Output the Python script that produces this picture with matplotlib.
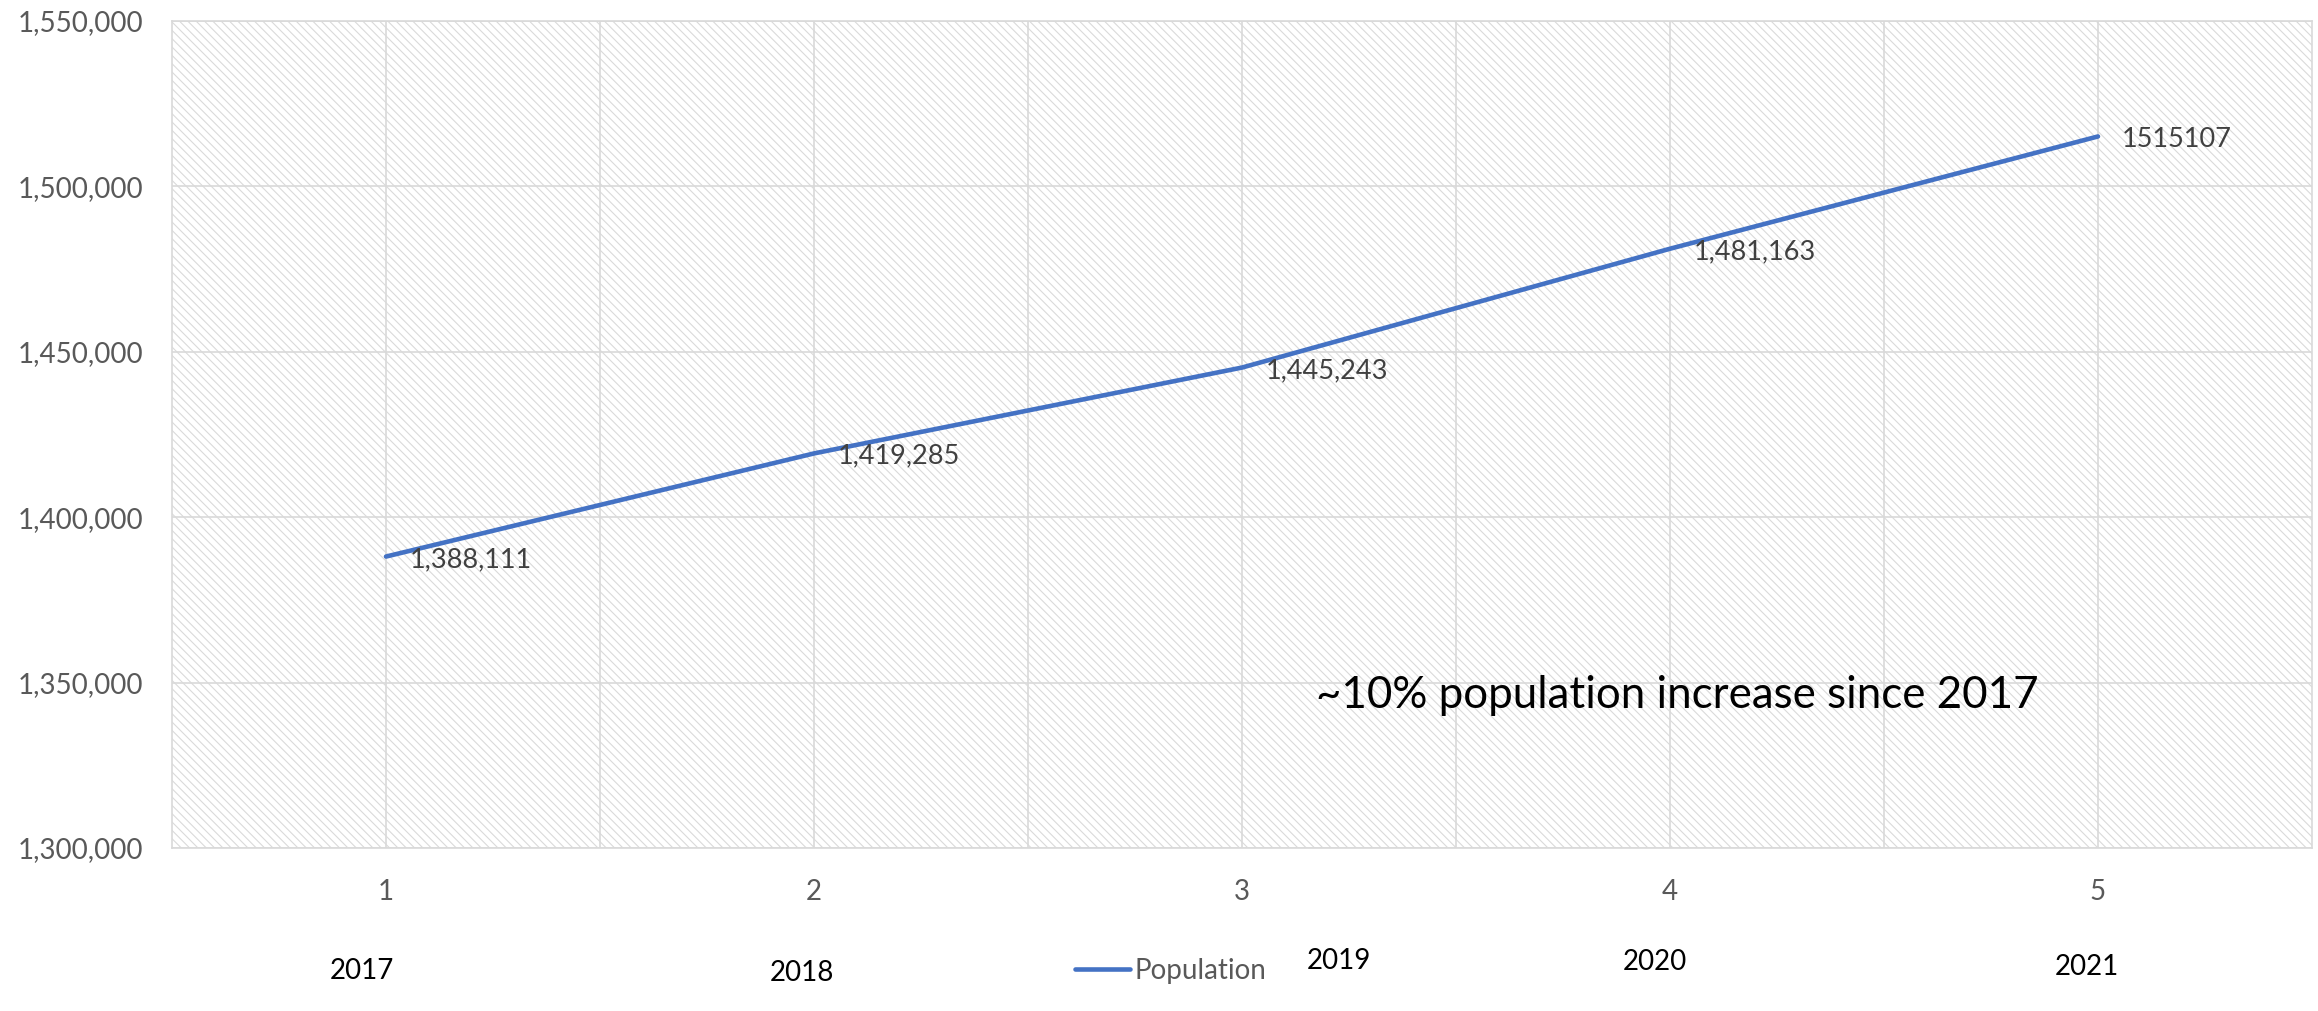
#---------import---------#
import numpy as np
import matplotlib.pyplot as plt
from matplotlib.patches import Rectangle
from matplotlib.ticker import FuncFormatter
#------------------------#


#----------Data----------#
categories = [1, 2, 3, 4, 5]
years = ['2017', '2018', '2019', '2020', '2021']
population = [1388111, 1419285, 1445243, 1481163, 1515107]
point_labels = ['1,388,111', '1,419,285', '1,445,243', '1,481,163', '1515107']
note = '~10% population increase since 2017'
#------------------------#


#------Setting_font------#
plt.rcParams['font.family'] = ['Lato', 'DejaVu Sans']
plt.rcParams['hatch.linewidth'] = 0.8
#------------------------#


fig = plt.figure(figsize=(23.18, 10.11), dpi=100)
ax = fig.add_axes([0.0742, 0.1612, 0.9232, 0.818])

# hatched plot background
ax.add_patch(Rectangle((0, 0), 1, 1, transform=ax.transAxes, facecolor='white',
                       edgecolor='#dadada', hatch='\\\\\\\\', lw=0, zorder=0))

line, = ax.plot(categories, population, color='#4472C4', lw=3.3, zorder=3,
                solid_capstyle='round', label='Population')

for x, y, s in zip(categories, population, point_labels):
    ax.annotate(s, (x, y), xytext=(17, -2), textcoords='offset points',
                ha='left', va='center', fontsize=19.5, color='#404040', zorder=4)

ax.text(0.5346, 0.185, note, transform=ax.transAxes, fontsize=31.6,
        color='black', ha='left', va='center')

ax.set_xlim(0.5, 5.5)
ax.set_ylim(1300000, 1550000)
ax.set_yticks(np.arange(1300000, 1550001, 50000))
ax.yaxis.set_major_formatter(FuncFormatter(lambda v, p: f'{int(v):,}'))
ax.set_xticks(categories)
ax.set_xticks(np.arange(1.5, 5.0, 1.0), minor=True)
ax.tick_params(axis='y', length=0, pad=21, labelsize=20, labelcolor='#595959')
ax.tick_params(axis='x', which='both', length=0, pad=22, labelsize=20, labelcolor='#595959')

ax.grid(True, which='both', color='#d9d9d9', lw=1.2, zorder=1)
ax.set_axisbelow(True)
for sp in ax.spines.values():
    sp.set_color('#d9d9d9')
    sp.set_linewidth(1.2)

# year text boxes under the axis (placed loosely, as in the source)
year_dx = [-0.056, -0.028, 0.227, -0.035, -0.026]
year_dy = [-0.149, -0.151, -0.137, -0.138, -0.144]
for c, yr, dx, dy in zip(categories, years, year_dx, year_dy):
    ax.text(c + dx, dy, yr, transform=ax.get_xaxis_transform(), fontsize=20,
            color='black', ha='center', va='center')

leg = fig.legend(handles=[line], loc='center', bbox_to_anchor=(0.505, 0.0396),
                 frameon=False, fontsize=20, handlelength=2.0, handletextpad=0.15)
for t in leg.get_texts():
    t.set_color('#595959')

fig.savefig('out.png', dpi=100)
